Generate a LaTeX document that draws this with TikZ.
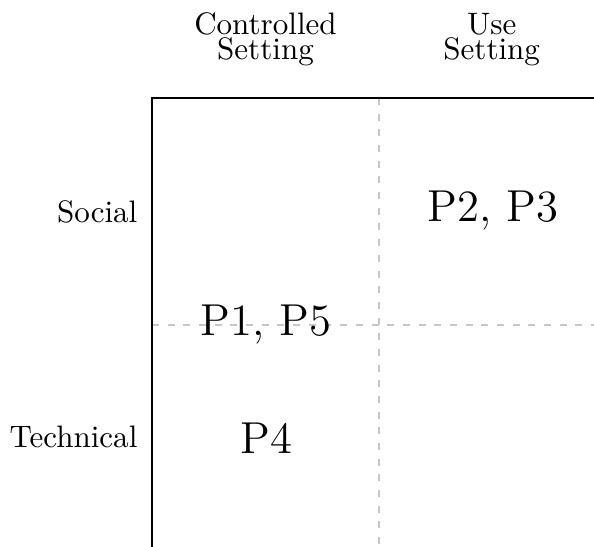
\documentclass[tikz,border=0pt]{standalone}
\begin{document}
\begin{tikzpicture}[x=0.322pt,y=-0.322pt,
  axisline/.style={line width=0.6pt,black},
  gridline/.style={line width=0.6pt,gray!45,dash pattern=on 2.25pt off 2.8pt},
  header/.style={align=center,font=\normalsize,inner sep=0pt,anchor=base},
  rowlabel/.style={font=\normalsize,inner sep=0pt,anchor=base east},
  cell/.style={font=\Large,inner sep=0pt,anchor=base}]
  \useasboundingbox (0,0) rectangle (594,547);
  % frame corners and dividers
  \coordinate (tl) at (152,98);
  \coordinate (tr) at (594,98);
  \coordinate (bl) at (152,547);
  \coordinate (mt) at (379,98);
  \coordinate (mb) at (379,547);
  \coordinate (ml) at (152,324.7);
  \coordinate (mr) at (594,324.7);
  \draw[gridline] (mt) -- (mb);
  \draw[gridline] (ml) -- (mr);
  \draw[axisline,line join=miter] (bl) -- (tl) -- (tr);
  % column headers (base anchor sits on the second line)
  \node[header] (controlled) at (265.5,59.3) {Controlled\\[-3.9pt]Setting};
  \node[header] (use) at (491.7,59.3) {Use\\[-3.9pt]Setting};
  % row labels
  \node[rowlabel] (social) at (138,222.7) {Social};
  \node[rowlabel] (technical) at (138,447.7) {Technical};
  % cell entries
  \node[cell] (p23) at (492.9,221.7) {P2, P3};
  \node[cell] (p15) at (266,335) {P1, P5};
  \node[cell] (p4) at (266.5,453) {P4};
\end{tikzpicture}
\end{document}
